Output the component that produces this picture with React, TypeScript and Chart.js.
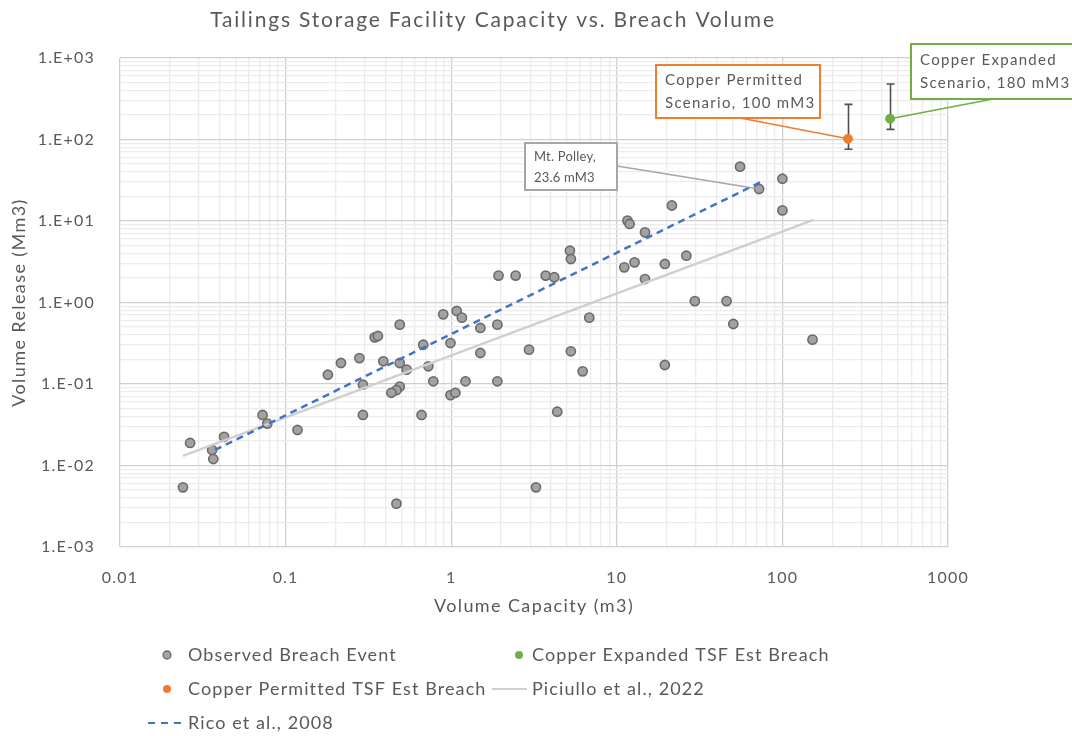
import React, { useEffect, useRef } from 'react';
import { Chart, registerables } from 'chart.js';

Chart.register(...registerables);

// ---------- data ----------
const observedCapacity = [
  0.024, 0.0265, 0.036, 0.0366, 0.0425, 0.0726, 0.0775, 0.118, 0.18, 0.216,
  0.279, 0.293, 0.293, 0.345, 0.361, 0.489, 0.389, 0.489, 0.538, 0.489,
  0.467, 0.435, 0.467, 0.662, 0.678, 0.728, 0.78, 0.895, 1.08, 1.16,
  0.99, 0.99, 1.06, 1.22, 1.5, 1.5, 1.9, 1.9, 1.93, 2.45,
  3.72, 4.19, 2.95, 5.28, 6.22, 6.82, 4.37, 3.25, 5.21, 5.28,
  11.1, 11.6, 11.95, 12.8, 14.8, 14.8, 19.5, 19.5, 21.5, 26.3,
  29.6, 46, 50.5, 55.5, 72.3, 100, 100, 152,
];
const observedRelease = [
  0.0054, 0.0189, 0.0155, 0.012, 0.0225, 0.0417, 0.0326, 0.0273, 0.13, 0.181,
  0.208, 0.098, 0.0417, 0.374, 0.388, 0.535, 0.19, 0.181, 0.15, 0.093,
  0.084, 0.078, 0.0034, 0.0417, 0.303, 0.165, 0.108, 0.716, 0.787, 0.652,
  0.318, 0.073, 0.078, 0.108, 0.487, 0.24, 0.535, 0.108, 2.14, 2.14,
  2.14, 2.04, 0.264, 0.252, 0.143, 0.652, 0.0457, 0.0054, 4.32, 3.42,
  2.7, 10.1, 9.2, 3.11, 7.26, 1.94, 2.97, 0.171, 15.5, 3.75,
  1.04, 1.04, 0.545, 46.4, 24.7, 33, 13.5, 0.35,
];
const mtPolleyCapacity = 72.3;
const mtPolleyRelease = 24.7;

const permittedCapacity = [249];
const permittedRelease = [102];
const permittedErrLow = [75.9];
const permittedErrHigh = [270];

const expandedCapacity = [447];
const expandedRelease = [180];
const expandedErrLow = [133];
const expandedErrHigh = [480];

const piciulloCapacity = [0.024, 154];
const piciulloRelease = [0.0131, 10.3];

const ricoCapacity = [0.0375, 73.3];
const ricoRelease = [0.0155, 29.8];

const xTickLabels = ['0.01', '0.1', '1', '10', '100', '1000'];
const yTickLabels = ['1.E-03', '1.E-02', '1.E-01', '1.E+00', '1.E+01', '1.E+02', '1.E+03'];

const titleText = 'Tailings Storage Facility Capacity vs. Breach Volume';
const xTitle = 'Volume Capacity (m3)';
const yTitle = 'Volume Release (Mm3)';

// ---------- styles ----------
const FONT = 'Lato, "Noto Sans", sans-serif';
const TEXT = '#595959';
const GRID_MAJOR = '#d0d0d0';
const GRID_MINOR = '#ececec';
const ORANGE = '#ED7D31';
const GREEN = '#70AD47';
const BLUE = '#4472C4';
const OBS_FILL = '#a3a1a1';
const OBS_BORDER = '#6b6b6b';
const PIC_LINE = '#cfcfcf';

const toXY = (xs: number[], ys: number[]) => xs.map((x, i) => ({ x, y: ys[i] }));

const isDecade = (v: number) => {
  const l = Math.log10(v);
  return Math.abs(l - Math.round(l)) < 1e-6;
};

const logTicks = (minExp: number, maxExp: number) => {
  const t: { value: number }[] = [];
  for (let e = minExp; e < maxExp; e++) {
    for (let m = 1; m <= 9; m++) t.push({ value: parseFloat((m * Math.pow(10, e)).toPrecision(6)) });
  }
  t.push({ value: Math.pow(10, maxExp) });
  return t;
};

const decorations = {
  id: 'decorations',
  beforeDraw(chart: any) {
    (chart.ctx as any).letterSpacing = '1.2px';
  },
  beforeDatasetsDraw(chart: any) {
    const ctx = chart.ctx;
    const xs = chart.scales.x;
    const ys = chart.scales.y;
    const bars = [
      [permittedCapacity, permittedErrLow, permittedErrHigh],
      [expandedCapacity, expandedErrLow, expandedErrHigh],
    ];
    ctx.save();
    ctx.strokeStyle = '#505050';
    ctx.lineWidth = 1.6;
    bars.forEach(([cap, lo, hi]) => {
      cap.forEach((c, i) => {
        const px = Math.round(xs.getPixelForValue(c)) + 0.5;
        const y1 = ys.getPixelForValue(lo[i]);
        const y2 = ys.getPixelForValue(hi[i]);
        ctx.beginPath();
        ctx.moveTo(px, y1);
        ctx.lineTo(px, y2);
        ctx.moveTo(px - 4, y1);
        ctx.lineTo(px + 4, y1);
        ctx.moveTo(px - 4, y2);
        ctx.lineTo(px + 4, y2);
        ctx.stroke();
      });
    });
    ctx.restore();
  },
  afterDatasetsDraw(chart: any) {
    const ctx = chart.ctx;
    const xs = chart.scales.x;
    const ys = chart.scales.y;
    const box = (
      x: number, y: number, w: number, h: number, color: string, lines: string[],
      size: number, spacing: number, lx: number, ly: number, tx: number, ty: number,
      firstY: number, lineGap: number,
    ) => {
      ctx.save();
      ctx.strokeStyle = color;
      ctx.lineWidth = 1.6;
      ctx.beginPath();
      ctx.moveTo(lx, ly);
      ctx.lineTo(tx, ty);
      ctx.stroke();
      ctx.fillStyle = '#ffffff';
      ctx.fillRect(x, y, w, h);
      ctx.lineWidth = 2;
      ctx.strokeRect(x, y, w, h);
      ctx.fillStyle = TEXT;
      ctx.font = `${size}px ${FONT}`;
      ctx.letterSpacing = `${spacing}px`;
      ctx.textAlign = 'left';
      ctx.textBaseline = 'middle';
      lines.forEach((l, i) => ctx.fillText(l, x + 9, firstY + i * lineGap));
      ctx.restore();
    };
    box(525, 143, 92, 47, '#a6a6a6', ['Mt. Polley,', '23.6 mM3'], 13, 0.2, 617, 166,
      xs.getPixelForValue(mtPolleyCapacity), ys.getPixelForValue(mtPolleyRelease), 157, 21);
    box(656, 65, 164, 53, ORANGE, ['Copper Permitted', 'Scenario, 100 mM3'], 15, 1.3, 740, 118,
      xs.getPixelForValue(permittedCapacity[0]), ys.getPixelForValue(permittedRelease[0]), 80, 23);
    box(911, 44, 170, 55, GREEN, ['Copper Expanded', 'Scenario, 180 mM3'], 15, 1.3, 993, 99,
      xs.getPixelForValue(expandedCapacity[0]), ys.getPixelForValue(expandedRelease[0]), 60, 23);
  },
  afterDraw(chart: any) {
    const ctx = chart.ctx;
    const area = chart.chartArea;
    ctx.save();
    ctx.fillStyle = TEXT;
    ctx.textBaseline = 'middle';
    // title
    ctx.font = `21px ${FONT}`;
    ctx.letterSpacing = '1.8px';
    ctx.textAlign = 'center';
    ctx.fillText(titleText, 493, 20);
    // axis titles
    ctx.font = `18px ${FONT}`;
    ctx.letterSpacing = '1.4px';
    ctx.fillText(xTitle, 534, 606);
    ctx.save();
    ctx.translate(19, (area.top + area.bottom) / 2);
    ctx.rotate(-Math.PI / 2);
    ctx.fillText(yTitle, 0, 0);
    ctx.restore();
    // legend
    ctx.font = `18px ${FONT}`;
    ctx.letterSpacing = '1.1px';
    ctx.textAlign = 'left';
    const dot = (x: number, y: number, fill: string, stroke?: string) => {
      ctx.beginPath();
      ctx.arc(x, y, 4, 0, Math.PI * 2);
      ctx.fillStyle = fill;
      ctx.fill();
      if (stroke) {
        ctx.strokeStyle = stroke;
        ctx.lineWidth = 1.3;
        ctx.stroke();
      }
    };
    const text = (s: string, x: number, y: number) => {
      ctx.fillStyle = TEXT;
      ctx.fillText(s, x, y);
    };
    dot(167, 655, OBS_FILL, OBS_BORDER);
    text('Observed Breach Event', 188, 655);
    dot(519, 655, GREEN);
    text('Copper Expanded TSF Est Breach', 532, 655);
    dot(167, 689, ORANGE);
    text('Copper Permitted TSF Est Breach', 188, 689);
    ctx.strokeStyle = PIC_LINE;
    ctx.lineWidth = 2;
    ctx.beginPath();
    ctx.moveTo(492, 689);
    ctx.lineTo(527, 689);
    ctx.stroke();
    text('Piciullo et al., 2022', 532, 689);
    ctx.strokeStyle = BLUE;
    ctx.setLineDash([7, 6]);
    ctx.beginPath();
    ctx.moveTo(148, 723);
    ctx.lineTo(184, 723);
    ctx.stroke();
    ctx.setLineDash([]);
    text('Rico et al., 2008', 188, 723);
    ctx.restore();
  },
};

export default function App() {
  const canvasRef = useRef<HTMLCanvasElement | null>(null);

  useEffect(() => {
    document.body.style.margin = '0';
    const canvas = canvasRef.current;
    if (!canvas) return;
    const chart = new Chart(canvas, {
      type: 'scatter',
      data: {
        datasets: [
          {
            label: 'Rico et al., 2008',
            data: toXY(ricoCapacity, ricoRelease),
            showLine: true,
            borderColor: BLUE,
            borderWidth: 2.5,
            borderDash: [7, 5],
            pointRadius: 0,
            order: 0,
          },
          {
            label: 'Piciullo et al., 2022',
            data: toXY(piciulloCapacity, piciulloRelease),
            showLine: true,
            borderColor: PIC_LINE,
            borderWidth: 2.5,
            pointRadius: 0,
            order: 1,
          },
          {
            label: 'Copper Permitted TSF Est Breach',
            data: toXY(permittedCapacity, permittedRelease),
            backgroundColor: ORANGE,
            borderColor: ORANGE,
            pointRadius: 4.5,
            borderWidth: 1,
            order: 0,
          },
          {
            label: 'Copper Expanded TSF Est Breach',
            data: toXY(expandedCapacity, expandedRelease),
            backgroundColor: GREEN,
            borderColor: GREEN,
            pointRadius: 4.5,
            borderWidth: 1,
            order: 0,
          },
          {
            label: 'Observed Breach Event',
            data: toXY(observedCapacity, observedRelease),
            backgroundColor: OBS_FILL,
            borderColor: OBS_BORDER,
            borderWidth: 1.6,
            pointRadius: 4.6,
            order: 2,
          },
        ],
      },
      options: {
        responsive: false,
        animation: false,
        devicePixelRatio: 1,
        layout: { padding: { top: 58, right: 124, left: 0, bottom: 0 } },
        plugins: {
          legend: { display: false },
          title: { display: false },
          tooltip: { enabled: false },
        },
        scales: {
          x: {
            type: 'logarithmic',
            min: 0.01,
            max: 1000,
            afterBuildTicks: (s: any) => { s.ticks = logTicks(-2, 3); },
            afterFit: (s: any) => { s.height = 736 - 547; },
            border: { display: false },
            grid: {
              drawTicks: false,
              color: (c: any) => (c.tick && isDecade(c.tick.value) ? GRID_MAJOR : GRID_MINOR),
              lineWidth: 1.3,
            },
            ticks: {
              autoSkip: false,
              maxRotation: 0,
              padding: 21,
              color: TEXT,
              font: { family: FONT, size: 16 },
              callback: (v: any) => {
                const n = Number(v);
                return isDecade(n) ? xTickLabels[Math.round(Math.log10(n)) + 2] : '';
              },
            },
          },
          y: {
            type: 'logarithmic',
            min: 0.001,
            max: 1000,
            afterBuildTicks: (s: any) => { s.ticks = logTicks(-3, 3); },
            afterFit: (s: any) => { s.width = 120; },
            border: { display: false },
            grid: {
              drawTicks: false,
              color: (c: any) => (c.tick && isDecade(c.tick.value) ? GRID_MAJOR : GRID_MINOR),
              lineWidth: 1.3,
            },
            ticks: {
              autoSkip: false,
              padding: 25,
              color: TEXT,
              font: { family: FONT, size: 16 },
              callback: (v: any) => {
                const n = Number(v);
                return isDecade(n) ? yTickLabels[Math.round(Math.log10(n)) + 3] : '';
              },
            },
          },
        },
      },
      plugins: [decorations],
    } as any);
    return () => chart.destroy();
  }, []);

  return (
    <div style={{ width: 1072, height: 736, position: 'relative' }}>
      <canvas ref={canvasRef} width={1072} height={736} style={{ display: 'block' }} />
    </div>
  );
}
